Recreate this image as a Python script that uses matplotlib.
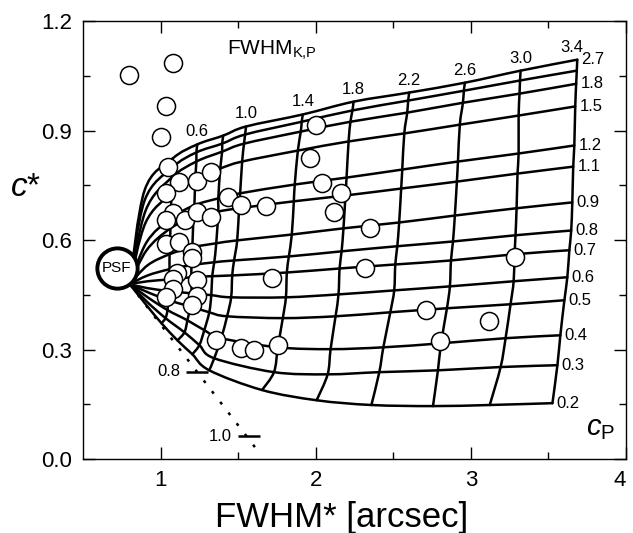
import matplotlib.pyplot as plt
import numpy as np
from matplotlib.path import Path
from matplotlib.patches import PathPatch

plt.rcParams['font.family'] = ['Liberation Sans', 'DejaVu Sans']
plt.rcParams['mathtext.fontset'] = 'custom'
plt.rcParams['mathtext.rm'] = 'Liberation Sans'
plt.rcParams['mathtext.it'] = 'Liberation Sans:italic'

# model grid: one row per c_P curve, one column per FWHM_K,P line
cp_labels = ['2.7', '', '1.8', '1.5', '1.2', '1.1', '0.9', '0.8', '0.7', '0.6', '0.5', '0.4', '0.3', '0.2']
fwhm_kp = [0.2, 0.4, 0.6, 0.8, 1.0, 1.4, 1.8, 2.2, 2.6, 3.0, 3.4]
fwhm_labels = ['', '', '0.6', '', '1.0', '1.4', '1.8', '2.2', '2.6', '3.0', '3.4']

psf_fwhm, psf_c = 0.801, 0.479        # start point of every model curve
psf_label_fwhm, psf_label_c = 0.718, 0.522

grid_fwhm = [
    [0.897, 1.077, 1.237, 1.404, 1.551, 1.917, 2.244, 2.603, 2.962, 3.321, 3.686],
    [0.897, 1.077, 1.231, 1.397, 1.545, 1.910, 2.237, 2.596, 2.955, 3.317, 3.683],
    [0.904, 1.071, 1.231, 1.397, 1.538, 1.904, 2.224, 2.590, 2.949, 3.314, 3.679],
    [0.904, 1.071, 1.224, 1.385, 1.526, 1.885, 2.212, 2.571, 2.929, 3.308, 3.673],
    [0.910, 1.064, 1.218, 1.372, 1.513, 1.865, 2.199, 2.558, 2.917, 3.308, 3.667],
    [0.910, 1.064, 1.212, 1.372, 1.506, 1.859, 2.192, 2.551, 2.910, 3.301, 3.660],
    [0.917, 1.058, 1.205, 1.359, 1.494, 1.846, 2.179, 2.538, 2.897, 3.295, 3.654],
    [0.917, 1.058, 1.199, 1.346, 1.474, 1.827, 2.167, 2.526, 2.885, 3.288, 3.647],
    [0.917, 1.058, 1.199, 1.333, 1.462, 1.814, 2.154, 2.513, 2.872, 3.282, 3.635],
    [0.917, 1.058, 1.199, 1.327, 1.455, 1.808, 2.147, 2.506, 2.865, 3.276, 3.622],
    [0.917, 1.051, 1.192, 1.314, 1.429, 1.788, 2.128, 2.481, 2.846, 3.256, 3.603],
    [0.917, 1.045, 1.173, 1.282, 1.391, 1.756, 2.096, 2.436, 2.808, 3.224, 3.577],
    [0.917, 1.032, 1.154, 1.250, 1.346, 1.731, 2.077, 2.410, 2.788, 3.192, 3.558],
    [0.910, 1.006, 1.109, 1.205, 1.314, 1.654, 2.006, 2.359, 2.756, 3.122, 3.526],
]
grid_c = [
    [0.736, 0.823, 0.862, 0.886, 0.911, 0.944, 0.979, 1.004, 1.031, 1.064, 1.094],
    [0.708, 0.799, 0.840, 0.864, 0.889, 0.924, 0.955, 0.982, 1.009, 1.037, 1.064],
    [0.681, 0.771, 0.815, 0.842, 0.864, 0.897, 0.924, 0.949, 0.976, 1.001, 1.028],
    [0.648, 0.728, 0.769, 0.796, 0.815, 0.845, 0.870, 0.892, 0.916, 0.941, 0.966],
    [0.594, 0.659, 0.695, 0.714, 0.728, 0.752, 0.771, 0.793, 0.815, 0.837, 0.859],
    [0.572, 0.632, 0.662, 0.678, 0.687, 0.706, 0.722, 0.741, 0.760, 0.782, 0.801],
    [0.531, 0.561, 0.580, 0.591, 0.599, 0.615, 0.632, 0.648, 0.667, 0.687, 0.703],
    [0.503, 0.520, 0.531, 0.539, 0.544, 0.555, 0.569, 0.583, 0.596, 0.613, 0.626],
    [0.487, 0.492, 0.498, 0.501, 0.503, 0.511, 0.522, 0.533, 0.544, 0.561, 0.572],
    [0.468, 0.460, 0.454, 0.449, 0.443, 0.443, 0.451, 0.462, 0.473, 0.487, 0.498],
    [0.457, 0.435, 0.418, 0.402, 0.391, 0.386, 0.391, 0.402, 0.413, 0.424, 0.435],
    [0.443, 0.408, 0.380, 0.353, 0.331, 0.306, 0.301, 0.306, 0.317, 0.331, 0.339],
    [0.429, 0.386, 0.347, 0.312, 0.276, 0.238, 0.232, 0.238, 0.243, 0.252, 0.257],
    [0.421, 0.372, 0.325, 0.287, 0.243, 0.189, 0.161, 0.148, 0.145, 0.148, 0.153],
]

# dotted limit line and its two marks
limit_fwhm = [0.801, 1.622]
limit_c = [0.479, 0.025]
limit_mark_fwhm = [1.237, 1.567]
limit_mark_c = [0.239, 0.063]
limit_mark_labels = ['0.8', '1.0']

# observed objects
obs_fwhm = [0.795, 1.077, 1.038, 1.000, 1.045, 1.122, 1.237, 1.327, 1.038, 1.436,
            1.519, 1.679, 1.077, 1.038, 1.160, 1.237, 1.327, 1.038, 1.122, 1.205,
            1.205, 2.000, 1.962, 2.038, 2.160, 2.115, 2.353, 2.321, 3.282, 2.712,
            3.115, 2.801, 1.718, 1.109, 1.077, 1.237, 1.077, 1.038, 1.237, 1.205,
            1.359, 1.519, 1.603, 1.756]
obs_c = [1.053, 1.086, 0.966, 0.881, 0.801, 0.760, 0.763, 0.785, 0.728, 0.717,
         0.695, 0.692, 0.673, 0.656, 0.654, 0.676, 0.662, 0.588, 0.594, 0.566,
         0.550, 0.914, 0.826, 0.755, 0.728, 0.676, 0.632, 0.522, 0.553, 0.408,
         0.377, 0.323, 0.495, 0.509, 0.492, 0.490, 0.465, 0.443, 0.446, 0.421,
         0.325, 0.304, 0.298, 0.312]


def smooth_path(xs, ys):
    # Catmull-Rom through the nodes, drawn as cubic Bezier segments
    p = np.column_stack([xs, ys])
    ext = np.vstack([p[0], p, p[-1]])
    verts = [p[0]]
    codes = [Path.MOVETO]
    for k in range(len(p) - 1):
        a, b, c, d = ext[k], ext[k + 1], ext[k + 2], ext[k + 3]
        verts += [b + (c - a) / 6, c - (d - b) / 6, c]
        codes += [Path.CURVE4] * 3
    return Path(verts, codes)


gx = np.array(grid_fwhm)
gy = np.array(grid_c)

fig = plt.figure(figsize=(6.33, 5.33), dpi=100)
ax = fig.add_axes([0.1311, 0.1388, 0.8578, 0.8218])

line_kw = dict(fill=False, lw=1.8, edgecolor='black', capstyle='round', joinstyle='round', zorder=2)

# c_P curves
for i in range(len(cp_labels)):
    xs = np.concatenate([[psf_fwhm], gx[i]])
    ys = np.concatenate([[psf_c], gy[i]])
    ax.add_patch(PathPatch(smooth_path(xs, ys), **line_kw))
    if cp_labels[i]:
        ax.annotate(cp_labels[i], (gx[i, -1], gy[i, -1]), xytext=(3, 0), textcoords='offset points',
                    ha='left', va='center', fontsize=12)

# FWHM_K,P lines
for j, f in enumerate(fwhm_kp):
    if f < 0.3:
        continue
    ax.add_patch(PathPatch(smooth_path(gx[:, j], gy[:, j]), **line_kw))
    if fwhm_labels[j]:
        last = j == len(fwhm_kp) - 1
        ax.annotate(fwhm_labels[j], (gx[0, j], gy[0, j]), xytext=(4 if last else 0, 9),
                    textcoords='offset points', ha='right' if last else 'center',
                    va='center', fontsize=12)

# dotted limit
ax.plot(limit_fwhm, limit_c, color='black', lw=1.8, ls=(0, (1.2, 4.2)), zorder=2)
ax.plot(limit_mark_fwhm, limit_mark_c, ls='none', marker='_', ms=16, mew=1.8, color='black', zorder=2)
for xm, ym, lab in zip(limit_mark_fwhm, limit_mark_c, limit_mark_labels):
    ax.annotate(lab, (xm, ym), xytext=(-12, 0), textcoords='offset points',
                ha='right', va='center', fontsize=12)

# observations
ax.plot(obs_fwhm, obs_c, ls='none', marker='o', ms=13, mfc='white', mec='black', mew=1.1, zorder=4)

# PSF marker
ax.plot([psf_label_fwhm], [psf_label_c], ls='none', marker='o', ms=29, mfc='white', mec='black',
        mew=2.8, zorder=5)
ax.text(psf_label_fwhm, psf_label_c, 'PSF', ha='center', va='center', fontsize=11, zorder=6)

ax.text(1.43, 1.12, r'FWHM$_{\rm K{,}P}$', ha='left', va='center', fontsize=15)
ax.text(3.74, 0.085, r'$\it{c}_{\rm P}$', ha='left', va='center', fontsize=21)

ax.set_xlim(0.5, 4)
ax.set_ylim(0, 1.2)
ax.set_xticks([1, 2, 3, 4])
ax.set_xticks([1.5, 2.5, 3.5], minor=True)
ax.set_yticks([0.0, 0.3, 0.6, 0.9, 1.2])
ax.set_yticks([0.15, 0.45, 0.75, 1.05], minor=True)
ax.yaxis.set_major_formatter(plt.FormatStrFormatter('%.1f'))
ax.tick_params(which='both', direction='in', top=True, right=True, width=1, labelsize=16, pad=8)
ax.tick_params(which='major', length=8.5)
ax.tick_params(which='minor', length=5)
ax.get_xticklabels()[-1].set_horizontalalignment('right')
for s in ax.spines.values():
    s.set_linewidth(1)

ax.set_xlabel('FWHM* [arcsec]', fontsize=25)
ax.xaxis.set_label_coords(0.476, -0.095)
ax.set_ylabel(r'$\it{c}$*', fontsize=24, rotation=0, va='center')
ax.yaxis.set_label_coords(-0.105, 0.62)

fig.savefig('out.png', dpi=100)
